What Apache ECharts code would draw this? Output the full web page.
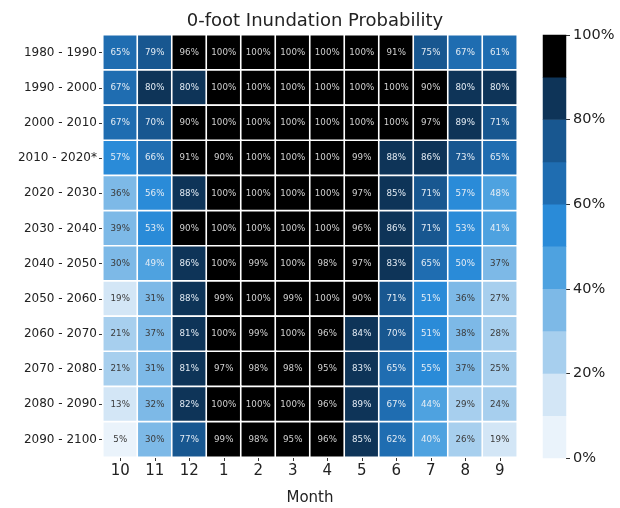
<!DOCTYPE html>
<html>
<head>
<meta charset="utf-8">
<script src="https://cdn.jsdelivr.net/npm/echarts@6/dist/echarts.min.js"></script>
<style>html,body{margin:0;padding:0;background:#fff}#c{width:620px;height:508px}</style>
</head>
<body>
<div id="c"></div>
<script>
var months = ['10','11','12','1','2','3','4','5','6','7','8','9'];
var periods = ['1980 - 1990','1990 - 2000','2000 - 2010','2010 - 2020*','2020 - 2030','2030 - 2040','2040 - 2050','2050 - 2060','2060 - 2070','2070 - 2080','2080 - 2090','2090 - 2100'];
var r1980 = [65,79,96,100,100,100,100,100,91,75,67,61];
var r1990 = [67,80,80,100,100,100,100,100,100,90,80,80];
var r2000 = [67,70,90,100,100,100,100,100,100,97,89,71];
var r2010 = [57,66,91,90,100,100,100,99,88,86,73,65];
var r2020 = [36,56,88,100,100,100,100,97,85,71,57,48];
var r2030 = [39,53,90,100,100,100,100,96,86,71,53,41];
var r2040 = [30,49,86,100,99,100,98,97,83,65,50,37];
var r2050 = [19,31,88,99,100,99,100,90,71,51,36,27];
var r2060 = [21,37,81,100,99,100,96,84,70,51,38,28];
var r2070 = [21,31,81,97,98,98,95,83,65,55,37,25];
var r2080 = [13,32,82,100,100,100,96,89,67,44,29,24];
var r2090 = [5,30,77,99,98,95,96,85,62,40,26,19];
var rows = [r1980,r1990,r2000,r2010,r2020,r2030,r2040,r2050,r2060,r2070,r2080,r2090];
var bandColors = ['#eaf3fb','#d3e6f6','#a7cfee','#7db9e7','#4ea2e0','#2a8bd8','#1f6db1','#185790','#0e3458','#000000'];
var colorbarTicks = [0,20,40,60,80,100];

var cells = [];
rows.forEach(function(r, yi){
  r.forEach(function(v, xi){
    cells.push({value:[xi, yi, v], label:{color: v >= 40 ? (v>=90?'#d0d0d0':'#e4ecf4') : '#3a3a3a'}});
  });
});
var pieces = bandColors.map(function(c, i){
  return i === 9 ? {gte: 90, lte: 100, color: c} : {gte: i*10, lt: i*10+10, color: c};
});
var bandCats = bandColors.map(function(c,i){return String(i);});
var cbData = bandColors.map(function(c,i){return [0, i, i*10+5];});

var chart = echarts.init(document.getElementById('c'), null, {renderer:'canvas'});
chart.setOption({
  animation: false,
  backgroundColor: '#fff',
  textStyle: {fontFamily: 'DejaVu Sans'},
  title: {
    text: '0-foot Inundation Probability',
    left: 310, textAlign: 'center', top: 7,
    textStyle: {fontFamily: 'DejaVu Sans', fontSize: 18, fontWeight: 'normal', color: '#222'}
  },
  grid: [
    {left: 103, top: 35, width: 414, height: 422, containLabel: false, outerBoundsMode: 'none'},
    {left: 543, top: 35, width: 23, height: 423, containLabel: false, outerBoundsMode: 'none'}
  ],
  visualMap: {type: 'piecewise', show: false, seriesIndex: [0,1], dimension: 2, pieces: pieces},
  xAxis: [
    {type: 'category', gridIndex: 0, data: months, position: 'bottom',
     axisLine: {show: false}, axisTick: {show: true, length: 4, alignWithLabel: true, lineStyle: {color: '#333'}},
     axisLabel: {fontSize: 15, color: '#222', margin: 7},
     splitLine: {show: false},
     name: 'Month', nameLocation: 'middle', nameGap: 34,
     nameTextStyle: {fontSize: 15, color: '#222'}},
    {type: 'category', gridIndex: 1, data: ['cb'], show: false}
  ],
  yAxis: [
    {type: 'category', gridIndex: 0, data: periods, inverse: true,
     axisLine: {show: false}, axisTick: {show: true, length: 4, alignWithLabel: true, lineStyle: {color: '#333'}},
     axisLabel: {fontSize: 12, color: '#222', margin: 6}, splitLine: {show: false}},
    {type: 'category', gridIndex: 1, data: bandCats, show: false},
    {type: 'value', gridIndex: 1, min: 0, max: 100, interval: 20, position: 'right',
     axisLine: {show: false}, axisTick: {show: true, length: 4, lineStyle: {color: '#333'}},
     axisLabel: {fontSize: 14.5, color: '#222', margin: 7, formatter: '{value}%'},
     splitLine: {show: false}}
  ],
  series: [
    {type: 'heatmap', xAxisIndex: 0, yAxisIndex: 0, data: cells,
     itemStyle: {borderColor: '#ffffff', borderWidth: 1.6},
     label: {show: true, fontSize: 8.7, fontFamily: 'DejaVu Sans', formatter: function(p){return p.value[2] + '%';}},
     emphasis: {disabled: true}},
    {type: 'heatmap', xAxisIndex: 1, yAxisIndex: 1, data: cbData,
     itemStyle: {borderWidth: 0}, label: {show: false}, emphasis: {disabled: true}}
  ]
});
</script>
</body>
</html>
